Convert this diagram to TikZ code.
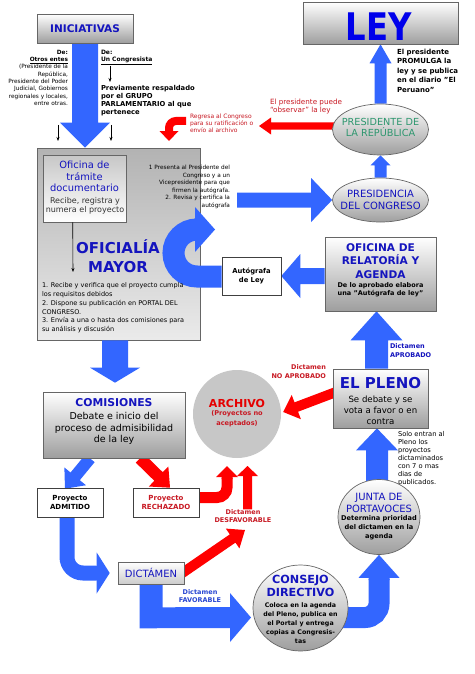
\documentclass[tikz,border=0pt]{standalone}
\usepackage{fontspec}
\setmainfont{DejaVu Sans}
\usepackage{graphicx}
\usetikzlibrary{calc,shapes.geometric,arrows.meta}
\pgfdeclarelayer{back}\pgfdeclarelayer{arrows}
\pgfsetlayers{back,arrows,main}
\definecolor{ablue}{RGB}{51,102,255}
\definecolor{ared}{RGB}{255,0,0}
\definecolor{tblue}{RGB}{20,20,190}
\definecolor{tblue2}{RGB}{40,70,210}
\definecolor{tred}{RGB}{200,25,35}
\definecolor{tgreen}{RGB}{45,150,110}
\definecolor{lblue}{RGB}{0,0,235}
\newcommand\fz[2]{\fontsize{#1}{#2}\selectfont}
\newcommand\barrow[6][ablue]{%
  \coordinate (bA) at #2;
  \coordinate (bB) at #3;
  \coordinate (bC) at ($(bB)!#6pt!(bA)$);
  \fill[#1] ($(bA)!#4pt/2!90:(bB)$) -- ($(bC)!#4pt/2!90:(bB)$) -- ($(bC)!#5pt/2!90:(bB)$) -- (bB) -- ($(bC)!#5pt/2!-90:(bB)$) -- ($(bC)!#4pt/2!-90:(bB)$) -- ($(bA)!#4pt/2!-90:(bB)$) -- cycle;
}
\begin{document}
\begin{tikzpicture}[x=1pt,y=-1pt,
  txt/.style={inner sep=0pt, outer sep=0pt},
  gbox/.style={rectangle, draw=black!60, line width=0.7pt, top color=white, bottom color=black!38, inner sep=0pt},
  wbox/.style={rectangle, draw=black!75, line width=0.6pt, fill=white, inner sep=0pt},
  gell/.style={ellipse, draw=black!60, line width=0.7pt, top color=white, bottom color=black!38, inner sep=0pt},
  tarrow/.style={-{Stealth[length=4pt,width=3pt]}, line width=0.6pt}]
\begin{pgfonlayer}{back}
\fill[white] (0,0) rectangle (474,674);
\node[rectangle, draw=black!60, line width=0.7pt, top color=black!30, bottom color=black!8, minimum width=163pt, minimum height=192pt, inner sep=0pt] (ofi) at (118.5,244) {};
\end{pgfonlayer}
\useasboundingbox (0,0) rectangle (474,674);

% ---------- top left
\node[gbox, minimum width=96pt, minimum height=29pt, font=\fz{10.5}{12}\bfseries, text=tblue] (ini) at (85,28.5) {INICIATIVAS};
\node[txt, anchor=north east, align=right, font=\fz{5.8}{7.3}] (otros) at (68,50) {\textbf{De:}\\\textbf{\underline{Otros entes}}\\(Presidente de la\\República,\\Presidente del Poder\\Judicial, Gobiernos\\regionales y locales,\\entre otras.};
\node[txt, anchor=north west, align=left, font=\fz{6}{7.3}\bfseries] (cong) at (101,50) {De:\\\underline{Un Congresista}};
\node[txt, anchor=north west, align=left, font=\fz{6.8}{8}\bfseries] (prev) at (101,85) {Previamente respaldado\\por el GRUPO\\PARLAMENTARIO al que\\pertenece};
\coordinate (ca1) at (110,66); \coordinate (ca2) at (110,82);
\coordinate (sa1) at (58,125); \coordinate (sa2) at (58,141);
\coordinate (sb1) at (111,125); \coordinate (sb2) at (111,141);
\draw[tarrow] (ca1) -- (ca2);
\draw[tarrow] (sa1) -- (sa2);
\draw[tarrow] (sb1) -- (sb2);

\node[txt, anchor=north west, align=left, font=\fz{6}{7}, text=tred] (regresa) at (190,114) {Regresa al Congreso\\para su ratificación o\\envío al archivo};
\node[txt, anchor=north west, align=left, font=\fz{7.2}{8.5}, text=tred] (obs) at (270,99) {El presidente puede\\“observar” la ley};

% ---------- top right
\node[gbox, minimum width=155pt, minimum height=42pt] (ley) at (380.5,23) {};
\node[txt, anchor=base, font=\fz{38}{38}\bfseries, text=lblue] (leyt) at (379,41) {\scalebox{0.85}[1]{LEY}};
\node[txt, anchor=north west, align=left, font=\fz{7}{9.5}\bfseries] (prom) at (397,49) {El presidente\\PROMULGA la\\ley y se publica\\en el diario "El\\Peruano"};
\node[gell, minimum width=96pt, minimum height=51pt] (prep) at (380.5,129.5) {};
\node[txt, align=center, font=\fz{9.7}{11.5}, text=tgreen] (prept) at (380.5,127.5) {PRESIDENTE DE\\LA REPÚBLICA};
\node[gell, minimum width=96pt, minimum height=44pt] (prec) at (380.5,200) {};
\node[txt, align=center, font=\fz{10}{12}, text=tblue] (prect) at (380.5,200) {PRESIDENCIA\\DEL CONGRESO};
\node[txt, anchor=north east, align=right, font=\fz{5.8}{7.6}] (pres1) at (230,165) {1 Presenta al Presidente del\\Congreso y a un\\Vicepresidente para que\\firmen la autógrafa.\\2. Revisa y certifica la\\autógrafa};

% ---------- oficialia
\node[rectangle, draw=black!60, line width=0.6pt, top color=black!22, bottom color=white, minimum width=83pt, minimum height=67pt, inner sep=0pt] (tram) at (84.5,188.5) {};
\node[txt, align=center, font=\fz{9.9}{11.5}, text=tblue] (tramt) at (84.5,176.5) {Oficina de\\trámite\\documentario};
\node[txt, align=center, font=\fz{8}{9.5}, text=black!80] (tramb) at (85,206) {Recibe, registra y\\numera el proyecto};
\coordinate (tramE) at (73,272);
\draw[tarrow] ($(tram.south west)+(30,0)$) -- (tramE);
\node[txt, align=center, font=\fz{15}{19}\bfseries, text=tblue] (ofit) at (118,256) {OFICIALÍA\\MAYOR};
\node[txt, anchor=north west, align=left, font=\fz{6.5}{8.7}] (ofil) at (42,283) {1. Recibe y verifica que el proyecto cumpla\\los requisitos debidos\\2. Dispone su publicación en PORTAL DEL\\CONGRESO.\\3. Envía a una o hasta dos comisiones para\\su análisis y discusión};

% ---------- relatoria
\node[wbox, minimum width=59pt, minimum height=38pt, font=\fz{6.8}{9}\bfseries, align=center] (autog) at (251.5,276) {Autógrafa\\de Ley};
\node[gbox, minimum width=111pt, minimum height=74pt] (rel) at (380.5,274) {};
\node[txt, align=center, font=\fz{10.6}{13.5}\bfseries, text=tblue] (relt) at (380.5,261) {OFICINA DE\\RELATORÍA Y\\AGENDA};
\node[txt, align=center, font=\fz{6.5}{8}\bfseries] (relb) at (380.5,290) {De lo aprobado elabora\\una "Autógrafa de ley"};
\node[txt, anchor=north west, align=left, font=\fz{6.5}{8.5}\bfseries, text=tblue] (aprob) at (390,344) {Dictamen\\APROBADO};

% ---------- pleno
\node[gbox, minimum width=95pt, minimum height=59pt] (pleno) at (380.5,398.5) {};
\node[txt, font=\fz{15}{15}\bfseries, text=tblue] (plenot) at (380.5,383) {EL PLENO};
\node[txt, align=center, font=\fz{8.6}{11}] (plenob) at (380.5,410) {Se debate y se\\vota a favor o en\\contra};
\node[txt, anchor=north east, align=right, font=\fz{6.5}{8.3}\bfseries, text=tred] (noap) at (326,365) {Dictamen\\NO APROBADO};
\node[txt, anchor=north west, align=left, font=\fz{6.7}{8}] (solo) at (398,431) {Solo entran al\\Pleno los\\proyectos\\dictaminados\\con 7 o mas\\dias de\\publicados.};

% ---------- archivo
\node[circle, fill=black!22, minimum size=88pt, inner sep=0pt] (arch) at (237,414) {};
\node[txt, font=\fz{11}{11}\bfseries, text=red!90!black] (archt) at (237,403) {ARCHIVO};
\node[txt, align=center, font=\fz{6.6}{10}\bfseries, text=tred] (archb) at (237,419) {(Proyectos no\\aceptados)};

% ---------- comisiones
\node[gbox, minimum width=142pt, minimum height=66pt] (com) at (114,425) {};
\node[txt, font=\fz{10.8}{12}\bfseries, text=tblue] (comt) at (114,403) {COMISIONES};
\node[txt, align=center, font=\fz{9.5}{11.7}] (comb) at (114,428.5) {Debate e inicio del\\proceso de admisibilidad\\de la ley};
\node[wbox, minimum width=66pt, minimum height=29pt, align=center, font=\fz{7}{9.5}\bfseries] (adm) at (70,502.5) {Proyecto\\ADMITIDO};
\node[wbox, minimum width=66pt, minimum height=29pt, align=center, font=\fz{7}{9.5}\bfseries, text=tred] (rech) at (166,502.5) {Proyecto\\RECHAZADO};
\node[txt, align=center, font=\fz{6.5}{8.3}\bfseries, text=tred] (desf) at (243,516) {Dictamen\\DESFAVORABLE};

% ---------- bottom
\node[rectangle, draw=black!60, line width=0.6pt, top color=white, bottom color=black!20, minimum width=66pt, minimum height=22pt, font=\fz{10}{10}, text=tblue, inner sep=0pt] (dict) at (151,573) {DICTÁMEN};
\node[txt, align=center, font=\fz{6.5}{8.5}\bfseries, text=tblue2] (fav) at (200,596) {Dictamen\\FAVORABLE};
\node[gell, minimum width=95pt, minimum height=86pt] (cons) at (300.5,608) {};
\node[txt, align=center, font=\fz{11.2}{13}\bfseries, text=tblue] (const) at (300.5,586) {CONSEJO\\DIRECTIVO};
\node[txt, align=center, font=\fz{6.3}{9}\bfseries] (consb) at (300.5,623) {Coloca en la agenda\\del Pleno, publica en\\el Portal y entrega\\copias a Congresis-\\tas};
\node[gell, minimum width=82pt, minimum height=75pt] (jun) at (379,517) {};
\node[txt, align=center, font=\fz{10}{12}, text=tblue] (junt) at (379,503) {JUNTA DE\\PORTAVOCES};
\node[txt, align=center, font=\fz{6.6}{8.8}\bfseries] (junb) at (379,527.5) {Determina prioridad\\del dictamen en la\\agenda};

% ---------- arrows
\begin{pgfonlayer}{arrows}
\barrow{(ini.south)}{(ofi.north -| ini.south)}{26}{50}{25}
\draw[ared, line width=8pt, rounded corners=7pt] (186,121) -| (169,133);
\barrow[ared]{(169,131)}{(169,141)}{8}{19}{10}
\barrow[ared]{(336,126)}{(259,126)}{7}{17}{12}
\barrow{(prep.north)}{(ley.south)}{12}{22}{19}
\barrow{(prec.north)}{(prep.south)}{12}{20}{10}
\barrow{(237,200)}{(prec.west)}{15}{44}{21}
\draw[ablue, line width=22pt] (autog.west |- 0,276.5) -- (197,276.5) arc (90:270:23.5);
\barrow{(194,229.5)}{(215,229.5)}{22}{45}{20}
\barrow{(rel.west |- autog.east)}{(autog.east)}{16}{44}{19}
\barrow{($(pleno.north)+(-4,0)$)}{($(rel.south)+(-4,0)$)}{23}{52}{29}
\barrow[ared]{($(pleno.west)+(2,-6)$)}{($(arch.east)+(2,-2)$)}{10}{26}{14}
\barrow{($(ofi.south)+(-3.5,0)$)}{($(com.north)+(1,-9)$)}{26}{50}{15}
\barrow{($(com.south)+(-24,0)$)}{($(adm.north)+(-5,1)$)}{12}{28}{16}
\barrow[ared]{($(com.south)+(26,0)$)}{($(rech.north)+(4,0)$)}{12}{28}{16}
\draw[ared, line width=11pt, rounded corners=10pt] ($(rech.east)+(-1,-5)$) -| (227,478);
\barrow[ared]{(227,479)}{(227,466)}{11}{22}{11}
\barrow[ared]{($(desf.north)+(4.5,0)$)}{(247.5,466)}{9}{21}{10}
\barrow[ared]{($(dict.east)+(-2,0)$)}{(245,530)}{10}{24}{15}
\draw[ablue, line width=15pt, rounded corners=16pt] ($(adm.south)+(-3,-1)$) |- (99,573);
\barrow{(97,573)}{($(dict.west)+(-8,0)$)}{15}{41}{13}
\fill[ablue] ($(dict.south)+(-11.5,0)$) -- ++(23,0) -- ++(0,23) -- (230,607) -- (230,593) -- (251,617.5) -- (230,642) -- (230,628) -- ($(dict.south)+(-11.5,44)$) -- cycle;
\draw[ablue, line width=21pt, rounded corners=14pt] (340,617.5) -| (379,579);
\barrow{(379,580)}{(jun.south)}{21}{41}{23}
\barrow{($(jun.north)+(-2,2)$)}{($(pleno.south)+(-3.5,0)$)}{22}{42}{22}
\end{pgfonlayer}
\end{tikzpicture}
\end{document}
